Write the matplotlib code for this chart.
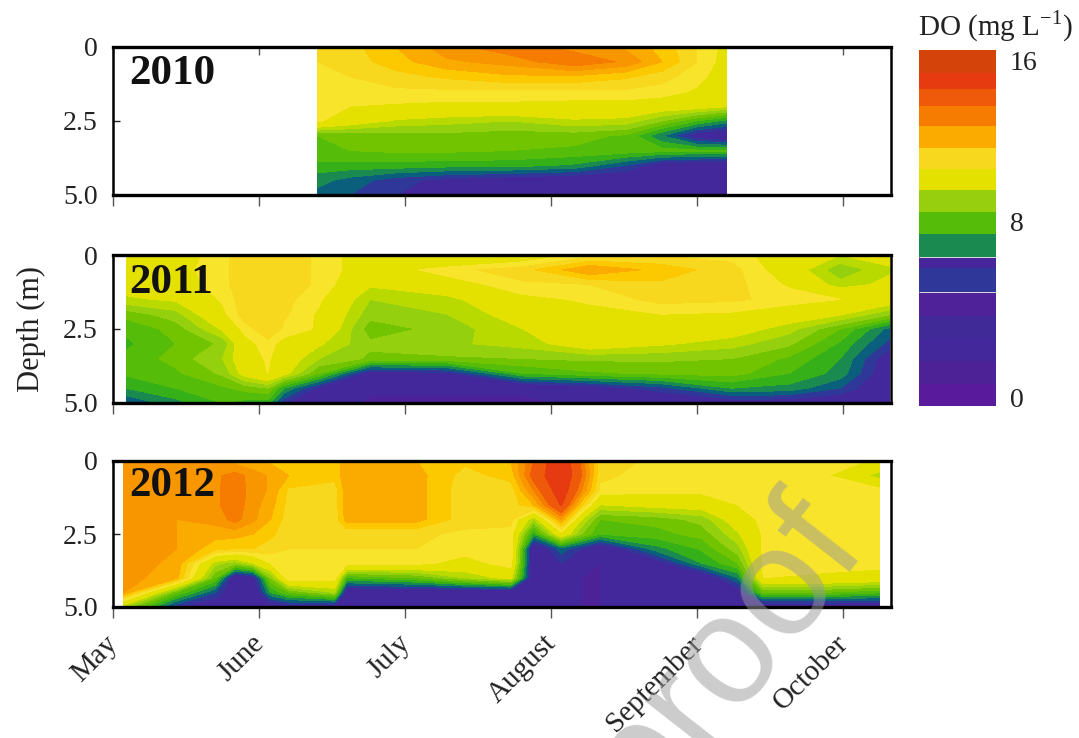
import numpy as np
import matplotlib
matplotlib.use("Agg")
import matplotlib.pyplot as plt
from matplotlib.colors import BoundaryNorm, ListedColormap
from matplotlib.transforms import ScaledTranslation

plt.rcParams["font.family"] = ["Liberation Serif", "DejaVu Serif"]

months = ["May", "June", "July", "August", "September", "October"]
month_ticks = [0, 1, 2, 3, 4, 5]
depths = [0, 0.5, 1, 1.5, 2, 2.5, 3, 3.5, 4, 4.5, 5]

# station dates as month fractions after 1 May
dates_2010 = [1.40, 1.62, 1.94, 2.29, 2.71, 3.16, 3.51, 3.76, 4.00, 4.20]
do_2010 = [
    [11.0, 11.3, 12.0, 12.8, 13.3, 12.8, 12.4, 11.8, 11.0, 10.3],
    [11.0, 11.2, 11.8, 12.4, 12.7, 13.4, 12.9, 12.0, 11.0, 10.2],
    [11.0, 11.0, 11.3, 11.6, 11.9, 11.9, 11.6, 11.2, 10.7, 10.1],
    [11.0, 10.9, 10.9, 10.9, 10.9, 10.9, 10.9, 10.8, 10.4, 10.0],
    [10.8, 10.5, 10.4, 10.3, 10.3, 10.2, 10.2, 10.0, 9.9, 9.6],
    [10.6, 10.0, 9.4, 9.2, 9.0, 9.4, 9.3, 8.5, 7.5, 6.8],
    [8.0, 8.1, 8.2, 8.3, 8.2, 8.2, 7.9, 6.5, 5.0, 4.6],
    [8.0, 8.0, 8.1, 8.1, 8.0, 7.9, 7.8, 7.7, 7.6, 7.6],
    [7.3, 7.3, 7.3, 7.2, 7.2, 6.9, 6.0, 5.0, 4.8, 4.6],
    [6.7, 6.3, 5.7, 5.3, 5.0, 4.8, 4.8, 4.6, 4.6, 4.6],
    [6.3, 6.0, 5.5, 4.8, 4.5, 4.5, 4.6, 4.6, 4.6, 4.6],
]

dates_2011 = [0.09, 0.43, 0.75, 0.90, 1.06, 1.17, 1.41, 1.76, 2.29, 2.81, 3.27, 3.75, 4.24, 4.63, 4.98, 5.32]
do_2011 = [
    [10.0, 10.0, 10.9, 11.2, 11.45, 11.3, 10.9, 10.0, 9.2, 9.8, 10.8, 11.0, 10.8, 10.0, 9.5, 9.8],
    [10.0, 10.2, 10.9, 11.2, 11.45, 11.3, 10.9, 10.0, 10.8, 11.3, 12.5, 11.8, 11.2, 10.0, 8.6, 9.4],
    [9.8, 10.0, 10.9, 11.2, 11.45, 11.3, 10.9, 9.6, 10.1, 10.9, 11.0, 11.4, 11.2, 10.4, 9.2, 9.7],
    [9.4, 9.6, 10.6, 11.3, 11.45, 11.2, 10.6, 9.0, 9.3, 10.3, 10.6, 11.2, 11.1, 10.8, 10.5, 10.0],
    [8.2, 8.8, 10.3, 11.3, 11.45, 11.1, 10.4, 8.7, 9.0, 9.9, 10.3, 10.5, 10.4, 10.0, 9.6, 8.6],
    [7.6, 8.2, 9.6, 10.7, 11.45, 10.9, 10.4, 8.2, 8.7, 9.5, 10.0, 10.0, 9.9, 9.2, 8.0, 6.3],
    [7.4, 8.0, 8.6, 10.2, 10.8, 10.2, 9.6, 8.6, 8.9, 9.2, 10.0, 9.6, 9.2, 8.6, 7.4, 5.8],
    [7.6, 8.2, 9.0, 10.0, 10.6, 10.0, 9.0, 8.4, 8.4, 8.5, 8.6, 8.6, 8.5, 7.9, 7.0, 5.0],
    [7.6, 7.9, 8.6, 9.8, 10.5, 9.8, 8.0, 5.0, 5.3, 7.5, 7.9, 8.1, 8.2, 7.5, 6.8, 4.8],
    [7.0, 7.5, 7.9, 8.2, 8.5, 7.0, 5.3, 4.6, 4.6, 4.6, 5.0, 5.8, 7.0, 6.8, 6.0, 4.6],
    [6.0, 6.8, 7.5, 7.3, 7.2, 5.5, 5.0, 4.4, 4.4, 4.4, 4.6, 4.6, 5.0, 5.0, 4.8, 4.6],
]

dates_2012 = [0.075, 0.435, 0.70, 0.837, 0.96, 1.08, 1.204, 1.518, 1.60, 2.078, 2.41,
              2.724, 2.88, 3.07, 3.21, 3.336, 3.72, 4.035, 4.279, 4.454, 4.85, 5.247]
do_2012 = [
    [12.7, 12.7, 12.8, 12.3, 12.0, 11.9, 12.0, 11.7, 12.3, 12.0, 11.6, 12.0, 13.5, 15.5, 13.3, 11.2, 10.9, 10.9, 10.9, 10.9, 10.8, 10.4],
    [12.7, 12.7, 12.9, 13.2, 12.8, 12.4, 12.0, 11.7, 12.3, 12.2, 11.3, 11.7, 13.8, 15.5, 13.5, 11.1, 10.8, 10.8, 10.8, 10.7, 10.7, 9.2],
    [12.7, 12.7, 12.9, 13.3, 12.8, 12.4, 11.4, 11.2, 12.3, 12.2, 11.2, 11.2, 13.0, 15.2, 13.0, 10.9, 10.7, 10.7, 10.7, 10.7, 10.7, 10.7],
    [12.7, 12.7, 12.9, 13.3, 12.7, 12.2, 11.3, 11.2, 12.3, 12.2, 11.2, 11.2, 12.0, 14.6, 11.6, 9.5, 9.8, 9.9, 10.5, 10.7, 10.7, 10.7],
    [12.7, 12.5, 12.7, 13.2, 12.6, 12.0, 11.2, 11.2, 12.2, 12.2, 11.2, 11.2, 9.0, 12.5, 9.5, 8.0, 8.2, 8.7, 10.0, 10.7, 10.7, 10.7],
    [12.7, 12.5, 12.2, 12.2, 12.0, 11.6, 11.2, 11.2, 11.1, 11.1, 10.9, 10.8, 7.0, 10.2, 8.5, 7.5, 7.8, 8.2, 9.4, 10.6, 10.7, 10.7],
    [12.7, 12.5, 11.7, 11.5, 11.5, 11.3, 11.0, 11.0, 11.0, 11.0, 10.8, 11.0, 4.5, 6.3, 5.5, 4.6, 6.8, 7.6, 8.8, 10.6, 10.7, 10.7],
    [12.7, 12.4, 9.2, 8.7, 9.5, 10.5, 11.0, 11.0, 10.9, 10.7, 10.2, 10.8, 4.5, 5.5, 4.8, 4.5, 5.0, 7.0, 8.0, 10.6, 10.7, 10.7],
    [12.7, 12.2, 8.0, 4.6, 5.0, 8.5, 11.0, 10.8, 7.5, 8.0, 9.0, 9.8, 4.5, 4.8, 4.5, 4.5, 4.6, 4.6, 6.5, 10.5, 10.4, 10.2],
    [12.5, 8.0, 6.0, 4.6, 4.6, 7.0, 8.0, 9.0, 4.6, 4.6, 4.6, 4.6, 4.5, 4.7, 4.5, 4.5, 4.6, 4.6, 4.9, 8.0, 8.0, 7.6],
    [9.0, 5.5, 4.7, 4.6, 4.6, 4.7, 5.0, 4.8, 4.6, 4.6, 4.6, 4.6, 4.5, 4.6, 4.5, 4.5, 4.6, 4.6, 4.6, 4.6, 4.6, 4.6],
]

levels = [0, 4.5, 5.5, 6, 6.5, 7, 7.5, 8, 8.5, 9, 9.5, 10.5, 11, 11.5, 12, 12.5, 13, 13.5, 14.5, 16]
level_colors = ["#4d2299", "#42289a", "#2f3799", "#0a5f7c", "#1a8a50", "#35b018", "#55bd0a",
                "#72c400", "#95d00f", "#b8da00", "#e4e000", "#f8e42a", "#f8d81e", "#fcc800",
                "#fbab00", "#f89600", "#f57c00", "#ee5a0a", "#e63a10"]

bar_edges = [0, 0.97, 2.02, 3.06, 4.03, 5.12, 6.18, 6.70, 7.73, 8.72, 9.70, 10.65, 11.60, 12.59, 13.50, 14.26, 14.98, 16]
bar_colors = ["#5a1a9c", "#4d2296", "#42289a", "#3f2a98", "#4f2299", "#2f3799", "#46269a", "#1a8a50",
              "#55bd0a", "#97ce0e", "#e4e000", "#f8d81e", "#fbab00", "#f57c00", "#ee5a0a", "#e63a10", "#d4440a"]
bar_ticks = [0.4, 8.27, 15.55]
bar_labels = ["0", "8", "16"]

W, H = 1079, 738


def px_axes(fig, left, top, right, bottom):
    return fig.add_axes([left / W, 1 - bottom / H, (right - left) / W, (bottom - top) / H])


fig = plt.figure(figsize=(W / 100, H / 100), dpi=100)
cmap = ListedColormap(level_colors)
norm = BoundaryNorm(levels, cmap.N)

panels = [
    ("2010", dates_2010, do_2010, 47, 195, 0.82),
    ("2011", dates_2011, do_2011, 255, 403, 0.81),
    ("2012", dates_2012, do_2012, 461, 607, 0.83),
]
for year, dates, values, top, bottom, label_y in panels:
    ax = px_axes(fig, 113, top, 891, bottom)
    ax.contourf(dates, depths, np.array(values), levels=levels, cmap=cmap, norm=norm)
    ax.set_xlim(0, 778 / 146)
    ax.set_ylim(5, 0)
    ax.set_yticks([0, 2.5, 5])
    ax.set_yticklabels(["0", "2.5", "5.0"])
    ax.set_xticks(month_ticks)
    ax.tick_params(axis="y", direction="in", length=5, width=1, labelsize=20, pad=11, colors="#222222")
    ax.tick_params(axis="x", direction="out", length=8, width=1, color="#555555", labelbottom=False)
    top_axis = ax.secondary_xaxis("top")
    top_axis.set_xticks(month_ticks)
    top_axis.set_xticklabels([])
    top_axis.tick_params(direction="in", length=6, width=1, color="#555555")
    top_axis.spines["top"].set_visible(False)
    for side in ["left", "right"]:
        ax.spines[side].set_linewidth(1.8)
    for side in ["top", "bottom"]:
        ax.spines[side].set_linewidth(2.4)
    ax.text(0.021, label_y, year, transform=ax.transAxes, fontsize=31, fontweight="bold",
            color="#111111", va="center", ha="left")
    if year == "2011":
        ax.set_ylabel("Depth (m)", fontsize=22, labelpad=12, color="#222222")
    if year == "2012":
        ax.set_xticklabels(months)
        ax.tick_params(axis="x", labelbottom=True, labelsize=21, pad=9, labelcolor="#222222")
        shift = ScaledTranslation(-8 / 100, 0, fig.dpi_scale_trans)
        for label in ax.get_xticklabels():
            label.set_rotation(45)
            label.set_ha("right")
            label.set_rotation_mode("anchor")
            label.set_transform(label.get_transform() + shift)

cax = px_axes(fig, 919, 50, 996, 406)
for i, color in enumerate(bar_colors):
    cax.bar(0.5, bar_edges[i + 1] - bar_edges[i], bottom=bar_edges[i], width=1, color=color, linewidth=0)
cax.hlines([bar_edges[5], bar_edges[7]], 0, 1, color="#dddddd", linewidth=0.7)
cax.set_xlim(0, 1)
cax.set_ylim(0, 16)
cax.set_xticks([])
cax.yaxis.tick_right()
cax.set_yticks(bar_ticks)
cax.set_yticklabels(bar_labels)
cax.tick_params(axis="y", length=0, labelsize=20, pad=10, colors="#222222")
for spine in cax.spines.values():
    spine.set_visible(False)
fig.text(918 / W, 1 - 27 / H, "DO (mg L$^{\\mathregular{-1}}$)", fontsize=21, color="#222222", va="center",
         math_fontfamily="stix")

# watermark cut off by the page edge
fig.text(725 / W, 1 - 655 / H, "proof", fontsize=112, rotation=52, color="#9a9a9a", alpha=0.5,
         family="Liberation Sans", ha="center", va="center", rotation_mode="anchor")

fig.savefig("out.png", dpi=100)
plt.close(fig)
